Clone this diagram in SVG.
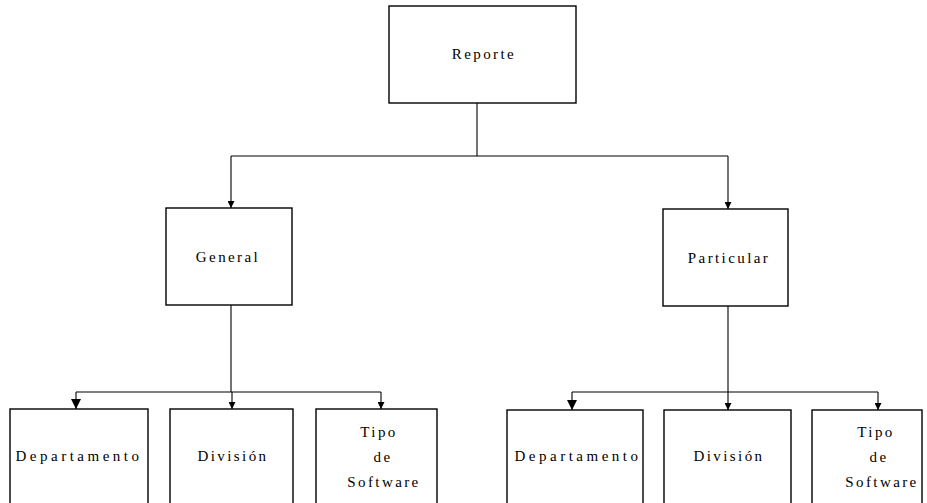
<svg xmlns="http://www.w3.org/2000/svg" width="927" height="503" viewBox="0 0 927 503">
  <style>
    .box { fill: #ffffff; stroke: #000000; stroke-width: 1.4; }
    .lbl { font-family: "Liberation Serif", "DejaVu Serif", serif; font-size: 15px; letter-spacing: 2.4px; fill: #000000; text-anchor: middle; }
    .wide { letter-spacing: 3.5px; }
    .wire { fill: none; stroke: #000000; stroke-width: 1.1; }
  </style>
  <defs>
    <marker id="tip" viewBox="0 0 10 10" refX="10" refY="5" markerWidth="7" markerHeight="7" orient="auto" markerUnits="userSpaceOnUse">
      <path d="M0,0 L10,5 L0,10 Z" fill="#000000"/>
    </marker>
    <marker id="tipBig" viewBox="0 0 10 10" refX="10" refY="5" markerWidth="10" markerHeight="10" orient="auto" markerUnits="userSpaceOnUse">
      <path d="M0,0 L10,5 L0,10 Z" fill="#000000"/>
    </marker>
  </defs>
  <rect width="927" height="503" fill="#ffffff"/>

  <g id="connectors">
    <!-- Reporte to second level -->
    <path class="wire" d="M477,103 V156"/>
    <path class="wire" d="M231,156 H728"/>
    <path class="wire" d="M231,156 V208" marker-end="url(#tip)"/>
    <path class="wire" d="M728,156 V209" marker-end="url(#tip)"/>
    <!-- General to its children -->
    <path class="wire" d="M231,305 V392"/>
    <path class="wire" d="M76,392 H381"/>
    <path class="wire" d="M76,392 V409" marker-end="url(#tipBig)"/>
    <path class="wire" d="M232,392 V409" marker-end="url(#tip)"/>
    <path class="wire" d="M381,392 V409" marker-end="url(#tip)"/>
    <!-- Particular to its children -->
    <path class="wire" d="M728,306 V392"/>
    <path class="wire" d="M572,392 H878"/>
    <path class="wire" d="M572,392 V410" marker-end="url(#tipBig)"/>
    <path class="wire" d="M728,392 V410" marker-end="url(#tip)"/>
    <path class="wire" d="M878,392 V410" marker-end="url(#tip)"/>
  </g>

  <g id="reporte">
    <rect class="box" x="389" y="6" width="187" height="97"/>
    <text class="lbl" x="484" y="59">Reporte</text>
  </g>

  <g id="general">
    <rect class="box" x="166" y="208" width="126" height="97"/>
    <text class="lbl" x="228" y="262">General</text>
  </g>

  <g id="particular">
    <rect class="box" x="663" y="209" width="125" height="97"/>
    <text class="lbl" x="729" y="263">Particular</text>
  </g>

  <g id="gen-departamento">
    <rect class="box" x="10" y="409" width="138" height="100"/>
    <text class="lbl wide" x="79" y="461">Departamento</text>
  </g>

  <g id="gen-division">
    <rect class="box" x="170" y="409" width="123" height="100"/>
    <text class="lbl" x="233" y="461">División</text>
  </g>

  <g id="gen-tipo">
    <rect class="box" x="316" y="409" width="121" height="100"/>
    <text class="lbl" x="379" y="437">Tipo</text>
    <text class="lbl" x="383" y="462">de</text>
    <text class="lbl" x="384" y="487">Software</text>
  </g>

  <g id="par-departamento">
    <rect class="box" x="507" y="410" width="136" height="100"/>
    <text class="lbl wide" x="578" y="461">Departamento</text>
  </g>

  <g id="par-division">
    <rect class="box" x="664" y="410" width="127" height="100"/>
    <text class="lbl" x="729" y="461">División</text>
  </g>

  <g id="par-tipo">
    <rect class="box" x="812" y="410" width="110" height="100"/>
    <text class="lbl" x="876" y="437">Tipo</text>
    <text class="lbl" x="879" y="462">de</text>
    <text class="lbl" x="882" y="487">Software</text>
  </g>
</svg>
